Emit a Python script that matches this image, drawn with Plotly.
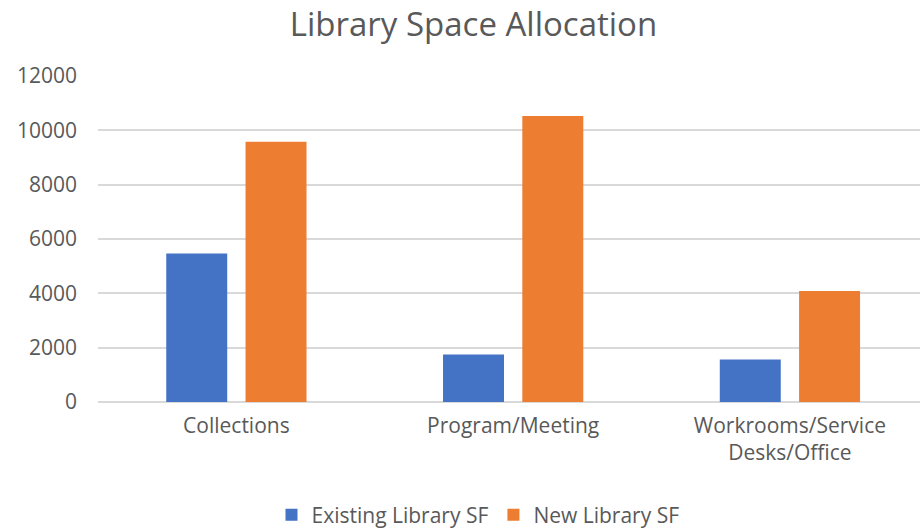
import plotly.graph_objects as go

categories = ["Collections", "Program/Meeting", "Workrooms/Service<br>Desks/Office"]
existing_sf = [5470, 1750, 1560]
new_sf = [9580, 10530, 4090]
y_ticks = [0, 2000, 4000, 6000, 8000, 10000, 12000]
y_tick_labels = ["0", "2000", "4000", "6000", "8000", "10000", "12000"]

FONT = "Open Sans"
GREY = "#595959"
W, H = 920, 528

fig = go.Figure()
fig.add_trace(go.Bar(name="Existing Library SF", x=categories, y=existing_sf,
                     marker=dict(color="#4472C4", line=dict(width=0))))
fig.add_trace(go.Bar(name="New Library SF", x=categories, y=new_sf,
                     marker=dict(color="#ED7D31", line=dict(width=0))))

fig.update_layout(
    width=W, height=H,
    margin=dict(l=98, r=0, t=76, b=126, autoexpand=False),
    paper_bgcolor="white", plot_bgcolor="white",
    barmode="group", bargap=0.427, bargroupgap=0.231,
    title=dict(text="Library Space Allocation", x=473.5/W, xanchor="center",
               y=1-24/H, yanchor="middle", xref="container", yref="container",
               font=dict(family=FONT, size=33, color=GREY)),
    font=dict(family=FONT, color=GREY),
    showlegend=True,
    legend=dict(orientation="h", x=478/W, xanchor="center", xref="container",
                y=1-515/H, yanchor="middle", yref="container",
                font=dict(family=FONT, size=21, color=GREY), traceorder="normal"),
    xaxis=dict(range=[-0.5, 2.47], showgrid=False, showline=False, ticks="",
               automargin=False,
               tickfont=dict(family=FONT, size=21, color=GREY), ticklabelstandoff=9),
    yaxis=dict(range=[0, 12000], tickvals=y_ticks, ticktext=y_tick_labels,
               showgrid=True, gridcolor="#d9d9d9", automargin=False,
               gridwidth=1.5, zeroline=True, zerolinecolor="#d9d9d9", zerolinewidth=1.5,
               showline=False, ticks="", tickfont=dict(family=FONT, size=21, color=GREY),
               ticklabelstandoff=20),
)

fig.write_html("out.html", config={"displayModeBar": False},
               post_script="document.body.style.margin='0';")
